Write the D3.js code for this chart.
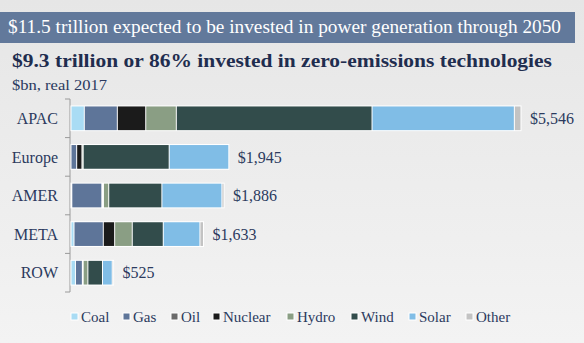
<!DOCTYPE html>
<html><head><meta charset="utf-8">
<script src="https://cdn.jsdelivr.net/npm/d3@7"></script>
<style>html,body{margin:0;padding:0;background:#fff;}svg{display:block;}</style>
</head><body>
<script>
const categories = ["APAC","Europe","AMER","META","ROW"];
const seriesNames = ["Coal","Gas","Oil","Nuclear","Hydro","Wind","Solar","Other"];
const seriesColors = ["#a9dcf4","#5e7599","#6b6b6b","#1b1b1b","#8a9e84","#324c4b","#80bde6","#c3c3c3"];
const coal    = [164, 0,   10,  37,  55];
const gas     = [407, 70,  370, 361, 85];
const oil     = [0,   0,   10,  0,   10];
const nuclear = [350, 65,  10,  140, 0];
const hydro   = [377, 15,  65,  217, 58];
const wind    = [2412,1060,655, 382, 180];
const solar   = [1754,735, 740, 452, 120];
const other   = [82,  0,   26,  44,  17];
const totalLabels = ["$5,546","$1,945","$1,886","$1,633","$525"];
const titleText = "$11.5 trillion expected to be invested in power generation through 2050";
const subtitleText = "$9.3 trillion or 86% invested in zero-emissions technologies";
const unitText = "$bn, real 2017";

const W = 584, H = 343;
const seriesValues = [coal,gas,oil,nuclear,hydro,wind,solar,other];
const rows = categories.map((c,i)=>{const r={cat:c}; seriesNames.forEach((s,j)=>r[s]=seriesValues[j][i]); return r;});
const stacked = d3.stack().keys(seriesNames)(rows);

const svg = d3.select("body").append("svg").attr("width",W).attr("height",H);
const defs = svg.append("defs");
const grad = defs.append("linearGradient").attr("id","bg").attr("x1",0).attr("y1",0).attr("x2",0).attr("y2",1);
grad.append("stop").attr("offset","0%").attr("stop-color","#e6e6e6");
grad.append("stop").attr("offset","100%").attr("stop-color","#f3f3f3");
svg.append("rect").attr("width",W).attr("height",H).attr("fill","url(#bg)");

svg.append("rect").attr("x",0).attr("y",12).attr("width",575).attr("height",31).attr("fill","#62799b");
svg.append("text").attr("x",8).attr("y",33).attr("fill","#fff")
  .attr("textLength",553).attr("lengthAdjust","spacingAndGlyphs")
  .style("font-family","Liberation Serif, serif").style("font-size","18px").text(titleText);
svg.append("text").attr("x",12).attr("y",67).attr("fill","#1f2d4f")
  .attr("textLength",540).attr("lengthAdjust","spacingAndGlyphs")
  .style("font-family","Liberation Serif, serif").style("font-weight","bold").style("font-size","19px").text(subtitleText);
svg.append("text").attr("x",12).attr("y",90).attr("fill","#2b3a5e")
  .attr("textLength",95).attr("lengthAdjust","spacingAndGlyphs")
  .style("font-family","Liberation Serif, serif").style("font-size","14px").text(unitText);

const x = d3.scaleLinear().domain([0,5546]).range([71,521]);
const y = d3.scaleBand().domain(categories).range([99,292]).paddingInner(0.36).paddingOuter(0.18);

const ax = svg.append("g").attr("transform","translate(70,0)");
ax.append("line").attr("x1",0).attr("x2",0).attr("y1",99).attr("y2",292).attr("stroke","#9a9a9a");
const bounds = categories.map(c=>y(c)-y.step()*y.paddingInner()/2).concat([292]);
ax.selectAll(".tk").data(bounds).join("line").attr("x1",-5).attr("x2",0).attr("y1",d=>d).attr("y2",d=>d).attr("stroke","#9a9a9a");
ax.selectAll(".lb").data(categories).join("text")
  .attr("x",-12).attr("y",d=>y(d)+y.bandwidth()/2).attr("dy","0.35em").attr("text-anchor","end")
  .attr("fill","#2b3a5e").style("font-family","Liberation Serif, serif").style("font-size","16px").text(d=>d);

svg.append("g").selectAll("rect").data(rows).join("rect")
  .attr("x",x(0)-0.5).attr("y",d=>y(d.cat)-0.5)
  .attr("width",(d,i)=>x(d3.sum(seriesValues,s=>s[i]))-x(0)+1).attr("height",y.bandwidth()+1)
  .attr("fill","#fff");

svg.append("g").selectAll("g").data(stacked).join("g").attr("fill",(d,i)=>seriesColors[i])
  .selectAll("rect").data(d=>d.filter(v=>v[1]-v[0]>0)).join("rect")
  .attr("x",d=>x(d[0])+0.5).attr("y",d=>y(d.data.cat)+0.5)
  .attr("width",d=>Math.max(0,x(d[1])-x(d[0])-1)).attr("height",y.bandwidth()-1);

svg.append("g").selectAll("text").data(rows).join("text")
  .attr("x",(d,i)=>x(d3.sum(seriesValues,s=>s[i]))+9).attr("y",d=>y(d.cat)+y.bandwidth()/2).attr("dy","0.35em")
  .attr("fill","#2b3a5e").style("font-family","Liberation Serif, serif").style("font-size","16px")
  .text((d,i)=>totalLabels[i]);

const legX = [71,123,171,213,287,351,409,466];
const lg = svg.append("g").selectAll("g").data(seriesNames).join("g")
  .attr("transform",(d,i)=>`translate(${legX[i]},317)`);
lg.append("rect").attr("x",0).attr("y",-4).attr("width",7).attr("height",7).attr("fill",(d,i)=>seriesColors[i]).attr("stroke","#fff").attr("stroke-width",1);
lg.append("text").attr("x",10).attr("y",0).attr("dy","0.35em").attr("fill","#2b3a5e")
  .style("font-family","Liberation Serif, serif").style("font-size","15px").text(d=>d);
</script>
</body></html>
